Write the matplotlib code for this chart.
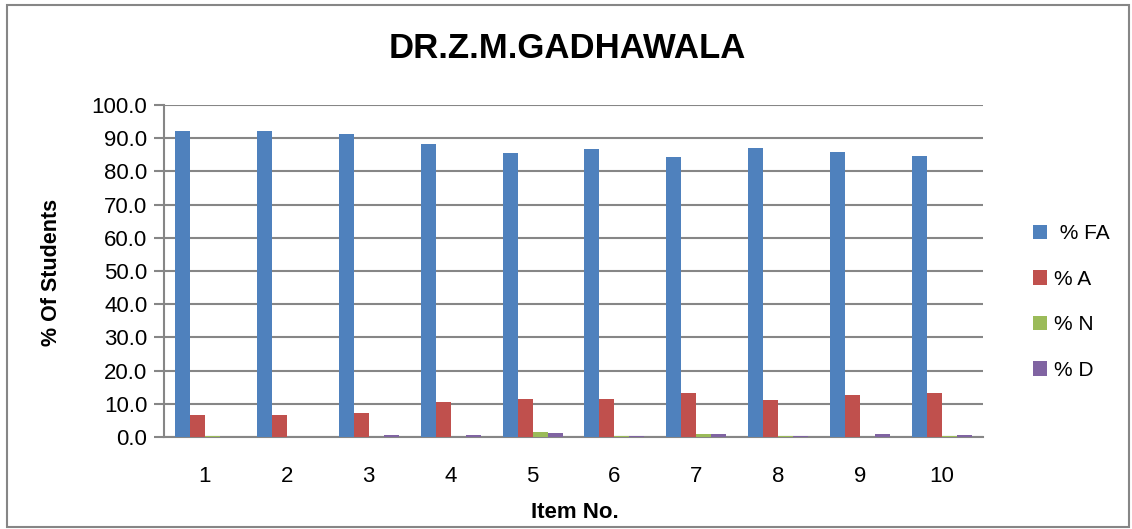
import matplotlib
matplotlib.use("Agg")
import matplotlib.pyplot as plt
import numpy as np
from matplotlib.patches import Rectangle

items = ["1", "2", "3", "4", "5", "6", "7", "8", "9", "10"]
pct_fa = [92.1, 92.2, 91.3, 88.3, 85.5, 86.7, 84.2, 87.0, 85.8, 84.7]
pct_a = [6.6, 6.6, 7.2, 10.4, 11.3, 11.5, 13.4, 11.0, 12.7, 13.4]
pct_n = [0.3, 0.0, 0.0, 0.0, 1.5, 0.3, 0.9, 0.3, 0.0, 0.3]
pct_d = [0.0, 0.0, 0.5, 0.5, 1.2, 0.3, 0.9, 0.3, 0.9, 0.5]
series_names = [" % FA", "% A", "% N", "% D"]
colors = ["#4F81BD", "#C0504D", "#9BBB59", "#8064A2"]

plt.rcParams['font.family'] = ['Liberation Sans', 'DejaVu Sans']

fig = plt.figure(figsize=(11.32, 5.29), dpi=100)
W, H = 1132, 529
ax = fig.add_axes([164 / W, 1 - 437 / H, (983 - 164) / W, (437 - 105) / H])

x = np.arange(len(items))
bw = 0.183
series = [pct_fa, pct_a, pct_n, pct_d]
for i, (vals, name, c) in enumerate(zip(series, series_names, colors)):
    ax.bar(x + (i - 1.5) * bw, vals, width=bw, color=c, label=name, zorder=3)

ax.set_xlim(-0.5, len(items) - 0.5)
ax.set_ylim(0, 100)
ax.set_yticks(np.arange(0, 101, 10))
ax.set_yticklabels([f"{v:.1f}" for v in np.arange(0, 101, 10)], fontsize=16)
ax.set_xticks(x)
ax.set_xticklabels(items, fontsize=16)
ax.tick_params(axis='x', length=0, pad=21)
ax.tick_params(axis='y', length=7, color="#868686", width=1.5, pad=5)
ax.grid(axis='y', color="#868686", linewidth=1.5, zorder=0)
for s in ['top', 'right']:
    ax.spines[s].set_visible(False)
for s in ['left', 'bottom']:
    ax.spines[s].set_color("#868686")
    ax.spines[s].set_linewidth(1.5)

fig.text(567 / W, 1 - 48 / H, "DR.Z.M.GADHAWALA", ha='center', va='center',
         fontsize=25, fontweight='bold')
fig.text(575 / W, 1 - 512 / H, "Item No.", ha='center', va='center',
         fontsize=16, fontweight='bold')
fig.text(52 / W, 1 - 272 / H, "% Of Students", ha='center', va='center',
         fontsize=15.5, fontweight='bold', rotation=90)

leg = fig.legend(loc='center left', bbox_to_anchor=(1018 / W, 1 - 302 / H),
                 frameon=False, fontsize=15, handlelength=0.7, handleheight=0.7,
                 labelspacing=1.27, handletextpad=0.35, borderpad=0.2)

fig.patches.append(Rectangle((7 / W, 2 / H), (1129 - 7) / W, (526 - 4) / H,
                             transform=fig.transFigure, fill=False,
                             edgecolor="#868686", linewidth=1.5))

fig.savefig("out.png", dpi=100)
